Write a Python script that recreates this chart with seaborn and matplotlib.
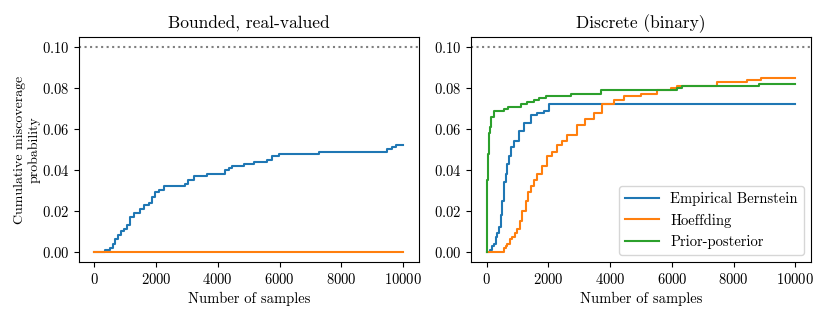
import numpy as np
import pandas as pd
import matplotlib
matplotlib.use("Agg")
import matplotlib.pyplot as plt
import seaborn as sns

# values (step functions, steps-post)
real_eb_x = [0, 356, 520, 600, 680, 760, 850, 950, 1050, 1165, 1300, 1490, 1620, 1760, 1870,
             1975, 2100, 2245, 2945, 3050, 3215, 3650, 4240, 4350, 4455, 4840, 5165, 5600,
             5760, 5970, 7270, 9480, 9640, 9780, 10000]
real_eb_y = [0, .001, .002, .004, .006, .008, .010, .011, .013, .017, .019, .021, .023, .024,
             .027, .029, .030, .032, .033, .035, .037, .038, .040, .041, .042, .043, .044,
             .045, .047, .048, .049, .050, .051, .052, .052]
real_hf_x = [0, 10000]
real_hf_y = [0, 0]

bin_eb_x = [0, 108, 170, 237, 300, 350, 400, 450, 500, 560, 620, 670, 720, 777, 885, 1047,
            1208, 1424, 1640, 1856, 2018, 10000]
bin_eb_y = [0, .001, .003, .004, .007, .009, .012, .018, .025, .034, .038, .043, .047, .051,
            .054, .059, .063, .067, .068, .069, .072, .072]
bin_hf_x = [0, 560, 620, 670, 750, 830, 910, 990, 1070, 1150, 1260, 1340, 1424, 1530, 1640,
            1800, 1960, 2120, 2290, 2450, 2610, 2935, 3200, 3475, 3745, 4120, 4445, 4985,
            5525, 5955, 6170, 7470, 8440, 8870, 10000]
bin_hf_y = [0, .002, .003, .004, .006, .007, .009, .011, .015, .020, .025, .029, .032, .035,
            .038, .042, .047, .049, .052, .054, .057, .062, .065, .068, .072, .074, .076,
            .077, .079, .080, .081, .083, .084, .085, .085]
bin_pp_x = [0, 10, 20, 40, 60, 80, 108, 150, 237, 560, 700, 885, 1100, 1300, 1530, 1700, 1910,
            2720, 3690, 6170, 6330, 8815, 10000]
bin_pp_y = [0, .020, .035, .048, .055, .058, .061, .066, .069, .070, .071, .071, .072, .073,
            .074, .075, .076, .077, .079, .080, .081, .082, .082]

alpha = 0.1
methods = ["Empirical Bernstein", "Hoeffding", "Prior-posterior"]
colors = dict(zip(methods, sns.color_palette("tab10", 3)))


def to_long(series):
    frames = []
    for name, (xs, ys) in series.items():
        frames.append(pd.DataFrame({"n": xs, "miscov": ys, "method": name}))
    return pd.concat(frames, ignore_index=True)


real_df = to_long({"Empirical Bernstein": (real_eb_x, real_eb_y),
                   "Hoeffding": (real_hf_x, real_hf_y)})
bin_df = to_long({"Empirical Bernstein": (bin_eb_x, bin_eb_y),
                  "Hoeffding": (bin_hf_x, bin_hf_y),
                  "Prior-posterior": (bin_pp_x, bin_pp_y)})

plt.rcParams.update({
    "font.family": "serif",
    "font.serif": ["cmr10"],
    "mathtext.fontset": "cm",
    "axes.formatter.use_mathtext": True,
    "font.size": 10.5,
    "xtick.labelsize": 10.5,
    "ytick.labelsize": 10.5,
    "axes.labelsize": 10.5,
    "axes.unicode_minus": False,
})

fig, axes = plt.subplots(1, 2, figsize=(8.3, 3.16), dpi=100)
fig.subplots_adjust(left=0.095, right=0.977, bottom=0.171, top=0.883, wspace=0.155)

for ax, df, title in zip(axes, [real_df, bin_df], ["Bounded, real-valued", "Discrete (binary)"]):
    sns.lineplot(data=df, x="n", y="miscov", hue="method", palette=colors,
                 estimator=None, drawstyle="steps-post", ax=ax, linewidth=1.5)
    ax.axhline(alpha, color="gray", linestyle=":", linewidth=1.5)
    ax.set_title(title, fontsize=12.5)
    ax.set_xlabel("Number of samples")
    ax.set_ylabel("")

axes[0].set_ylabel("Cumulative miscoverage\nprobability", fontsize=10, labelpad=1)
axes[0].get_legend().remove()
axes[1].legend(loc="lower right", fontsize=10.5, title=None, handlelength=2.3)

fig.savefig("out.png", dpi=100)
